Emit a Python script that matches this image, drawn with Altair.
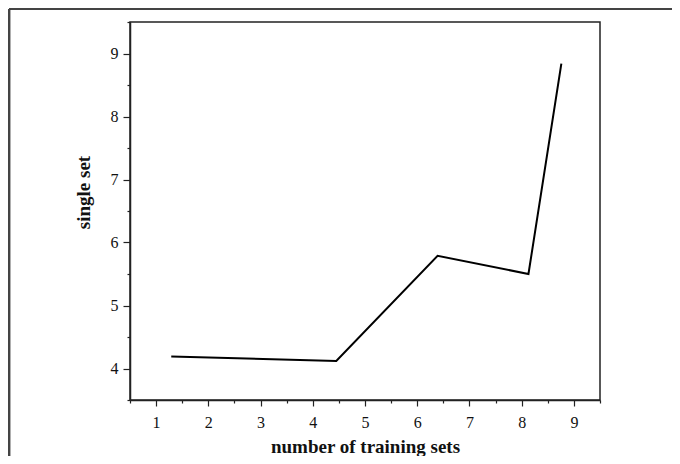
import altair as alt
import pandas as pd

x_vals = [1.29, 4.45, 6.39, 8.13, 8.76]
y_vals = [4.19, 4.12, 5.79, 5.50, 8.84]
x_ticks = [0.5, 1, 1.5, 2, 2.5, 3, 3.5, 4, 4.5, 5, 5.5, 6, 6.5, 7, 7.5, 8, 8.5, 9, 9.5]
y_ticks = [3.5, 4, 4.5, 5, 5.5, 6, 6.5, 7, 7.5, 8, 8.5, 9, 9.5]

df = pd.DataFrame({"x": x_vals, "y": y_vals})

FONT = "Liberation Serif"
AX = "#222222"
LBL = "datum.value % 1 === 0 ? format(datum.value, 'd') : ''"

x_axis = alt.Axis(
    values=x_ticks,
    labelExpr=LBL,
    labelOverlap=False,
    tickSize={"condition": {"test": "datum.value % 1 === 0", "value": 6}, "value": 3},
    labelPadding=8,
    labelFont=FONT, labelFontSize=16, labelColor="#111",
    title="number of training sets",
    titleFont=FONT, titleFontSize=19, titleFontWeight="bold", titleColor="#111",
    titleY=52, titleBaseline="alphabetic",
    domainColor=AX, tickColor=AX, domainWidth=1.5, tickWidth=1.2,
    grid=False,
)
y_axis = alt.Axis(
    values=y_ticks,
    labelExpr=LBL,
    labelOverlap=False,
    tickSize={"condition": {"test": "datum.value % 1 === 0", "value": 7}, "value": 3},
    labelPadding=5,
    labelFont=FONT, labelFontSize=16, labelColor="#111",
    title="single set",
    titleFont=FONT, titleFontSize=19, titleFontWeight="bold", titleColor="#111",
    titleX=-41, titleY=170, titleAngle=-90, titleAlign="center", titleBaseline="alphabetic",
    domainColor=AX, tickColor=AX, domainWidth=1.5, tickWidth=1.2,
    grid=False,
)

line = alt.Chart(df).mark_line(color="black", strokeWidth=2).encode(
    x=alt.X("x:Q", scale=alt.Scale(domain=[0.5, 9.5], nice=False, zero=False), axis=x_axis),
    y=alt.Y("y:Q", scale=alt.Scale(domain=[3.5, 9.5], nice=False, zero=False), axis=y_axis),
)

frame_top = alt.Chart(df).mark_rule(color="#444", strokeWidth=2.2).encode(
    x=alt.value(-121), x2=alt.value(560), y=alt.value(-13)
)
frame_left = alt.Chart(df).mark_rule(color="#444", strokeWidth=2.2).encode(
    x=alt.value(-121), y=alt.value(-13), y2=alt.value(460)
)

chart = alt.layer(line, frame_top, frame_left).properties(
    width=470, height=378,
    autosize=alt.AutoSizeParams(type="none"),
    padding={"left": 122, "top": 14, "right": 72, "bottom": 56},
).configure(
    background="white",
    view=alt.ViewConfig(stroke="#222", strokeWidth=1.5),
)

chart.save("out.html", embed_options={"renderer": "svg", "actions": False})
